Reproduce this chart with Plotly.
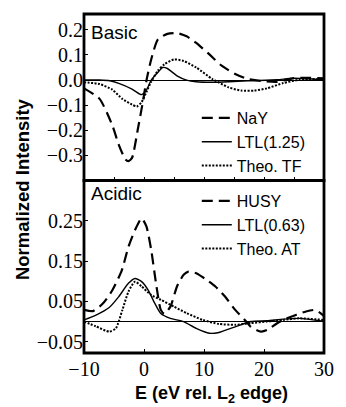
import plotly.graph_objects as go

# ---------------- data ----------------
# Top panel: "Basic"
nay_E = [-10, -7.4, -5.3, -4.2, -3.1, -2.6, -2.0, -1.0, -0.2, 0.4, 1.2, 2.3, 3.9, 5.5, 7.1, 8.7, 10.9, 13.0, 15.2, 17.3, 19.5, 22.2, 24.8, 27.0, 30]
nay_I = [-0.033, -0.075, -0.179, -0.258, -0.316, -0.323, -0.31, -0.192, -0.088, -0.003, 0.082, 0.161, 0.184, 0.187, 0.174, 0.148, 0.102, 0.056, 0.024, 0.004, -0.004, -0.007, 0.007, 0.009, 0.007]

ltl125_E = [-10, -7.4, -5.7, -4.2, -2.0, -0.7, -0.4, 0.4, 1.2, 2.3, 3.1, 3.9, 5.5, 7.1, 8.7, 11.4, 14.1, 17.3, 22.2, 24.8, 30]
ltl125_I = [0.0, 0.0, -0.003, -0.013, -0.036, -0.056, -0.058, -0.04, -0.0, 0.03, 0.05, 0.046, 0.017, 0.0, -0.007, -0.009, -0.007, -0.003, 0.001, 0.007, 0.001]

theotf_E = [-10, -7.4, -5.3, -3.6, -2.0, -1.2, -0.4, 0.4, 1.2, 2.3, 3.4, 5.0, 6.6, 8.7, 11.4, 14.1, 16.2, 18.4, 20.5, 23.2, 25.9, 30]
theotf_I = [-0.009, -0.016, -0.038, -0.075, -0.098, -0.105, -0.088, -0.048, -0.007, 0.037, 0.063, 0.082, 0.076, 0.05, 0.004, -0.029, -0.042, -0.042, -0.033, -0.012, 0.001, 0.004]

# Bottom panel: "Acidic"
husy_E = [-10, -8.5, -6.9, -5.3, -3.7, -2.6, -1.5, -0.4, 0.4, 1.2, 2.0, 2.8, 3.4, 4.4, 5.5, 6.6, 7.4, 8.7, 10.3, 11.9, 13.5, 15.2, 16.8, 17.8, 19.5, 20.5, 22.2, 23.8, 25.4, 27.0, 28.6, 29.4, 30]
husy_I = [0.029, 0.026, 0.044, 0.077, 0.127, 0.185, 0.227, 0.256, 0.236, 0.178, 0.095, 0.029, 0.019, 0.037, 0.087, 0.116, 0.124, 0.12, 0.105, 0.087, 0.062, 0.029, 0.004, -0.013, -0.025, -0.021, -0.004, 0.008, 0.017, 0.025, 0.029, 0.021, 0.014]

ltl063_E = [-10, -8.0, -5.8, -4.2, -2.6, -1.5, -0.4, 0.7, 1.8, 2.8, 4.4, 6.6, 8.7, 10.9, 12.5, 15.2, 17.8, 20.5, 23.2, 25.9, 30]
ltl063_I = [0.004, 0.016, 0.035, 0.062, 0.095, 0.107, 0.099, 0.078, 0.045, 0.02, 0.008, 0.0, -0.017, -0.029, -0.027, -0.013, 0.0, 0.002, 0.006, 0.008, 0.001]

theoat_E = [-10, -8.0, -5.8, -4.7, -3.6, -2.6, -1.5, -0.4, 1.2, 2.8, 5.0, 7.1, 9.8, 12.5, 15.2, 17.8, 20.5, 23.2, 25.9, 30]
theoat_I = [0.0, -0.012, -0.025, -0.017, 0.029, 0.074, 0.099, 0.087, 0.066, 0.054, 0.037, 0.021, 0.004, -0.006, -0.008, -0.004, 0.0, 0.004, 0.008, 0.004]

top_ticks = [0.2, 0.1, 0.0, -0.1, -0.2, -0.3]
bot_ticks = [0.25, 0.15, 0.05, -0.05]
x_ticks = [-10, 0, 10, 20, 30]

# ---------------- figure ----------------
W, H = 346, 407
L, R, T, B = 84, 14, 14, 54
ph = H - T - B
split = (353 - 180.5) / ph

sans = "Liberation Sans"
serif = "Liberation Serif"

fig = go.Figure()

def add(x, y, name, dash, width, xa, ya, legend):
    fig.add_trace(go.Scatter(x=x, y=y, mode="lines", name=name,
                             line=dict(color="black", dash=dash, width=width, shape="spline", smoothing=0.6),
                             xaxis=xa, yaxis=ya, legend=legend))

add(nay_E, nay_I, "NaY", "11px,6px", 2.2, "x2", "y2", "legend")
add(ltl125_E, ltl125_I, "LTL(1.25)", "solid", 1.4, "x2", "y2", "legend")
add(theotf_E, theotf_I, "Theo. TF", "2px,1.5px", 2.0, "x2", "y2", "legend")

add(husy_E, husy_I, "HUSY", "11px,6px", 2.2, "x", "y", "legend2")
add(ltl063_E, ltl063_I, "LTL(0.63)", "solid", 1.4, "x", "y", "legend2")
add(theoat_E, theoat_I, "Theo. AT", "2px,1.5px", 2.0, "x", "y", "legend2")

tickfont = dict(family=serif, size=20, color="black")
leg_common = dict(font=dict(family=sans, size=16, color="black"), bgcolor="rgba(0,0,0,0)",
                  borderwidth=0, tracegroupgap=0, itemwidth=30, xanchor="left", yanchor="top")

fig.update_layout(
    width=W, height=H, margin=dict(l=L, r=R, t=T, b=B),
    paper_bgcolor="white", plot_bgcolor="white",
    showlegend=True,
    legend=dict(x=0.47, y=(353 - 101) / ph, **leg_common),
    legend2=dict(x=0.47, y=(353 - 184) / ph, **leg_common),
    xaxis=dict(domain=[0, 1], range=[-10, 30], anchor="y", tickvals=x_ticks,
               ticks="inside", ticklen=4, tickcolor="black", tickfont=tickfont,
               showgrid=False, zeroline=False, showline=False, ticklabelstandoff=2),
    xaxis2=dict(domain=[0, 1], range=[-10, 30], anchor="y2", dtick=5, tick0=0,
                ticks="inside", ticklen=4, tickcolor="black", showticklabels=False,
                showgrid=False, zeroline=False, showline=False),
    yaxis=dict(domain=[0, split], range=[-0.078, 0.35], anchor="x", tickvals=bot_ticks,
               tickformat=".2f", ticks="inside", ticklen=4, tickcolor="black", tickfont=tickfont,
               showgrid=False, zeroline=True, zerolinecolor="black", zerolinewidth=1, showline=False),
    yaxis2=dict(domain=[split, 1], range=[-0.40, 0.263], anchor="x2", tickvals=top_ticks,
                tickformat=".1f", ticks="inside", ticklen=4, tickcolor="black", tickfont=tickfont,
                showgrid=False, zeroline=True, zerolinecolor="black", zerolinewidth=1, showline=False),
)

# panel frames
for xr, yr in (("x domain", "y domain"), ("x2 domain", "y2 domain")):
    fig.add_shape(type="rect", xref=xr, yref=yr, x0=0, x1=1, y0=0, y1=1,
                  line=dict(color="black", width=2.8), layer="above")

fig.add_annotation(text="Basic", xref="x2 domain", yref="y2 domain", x=0.02, y=0.965,
                   xanchor="left", yanchor="top", showarrow=False,
                   font=dict(family=sans, size=19, color="black"))
fig.add_annotation(text="Acidic", xref="x domain", yref="y domain", x=0.02, y=1.0,
                   xanchor="left", yanchor="top", showarrow=False,
                   font=dict(family=sans, size=19, color="black"))

fig.add_annotation(text="<b>Normalized Intensity</b>", xref="paper", yref="paper",
                   x=-(L - 20) / (W - L - R), y=(353 - 189) / ph, textangle=-90,
                   xanchor="center", yanchor="middle", showarrow=False,
                   font=dict(family=sans, size=18.5, color="black"))
fig.add_annotation(text="<b>E (eV rel. L<sub>2</sub> edge)</b>", xref="paper", yref="paper",
                   x=(216 - L) / (W - L - R), y=-(394 - 353) / ph,
                   xanchor="center", yanchor="middle", showarrow=False,
                   font=dict(family=sans, size=18, color="black"))

fig.write_html("out.html")
